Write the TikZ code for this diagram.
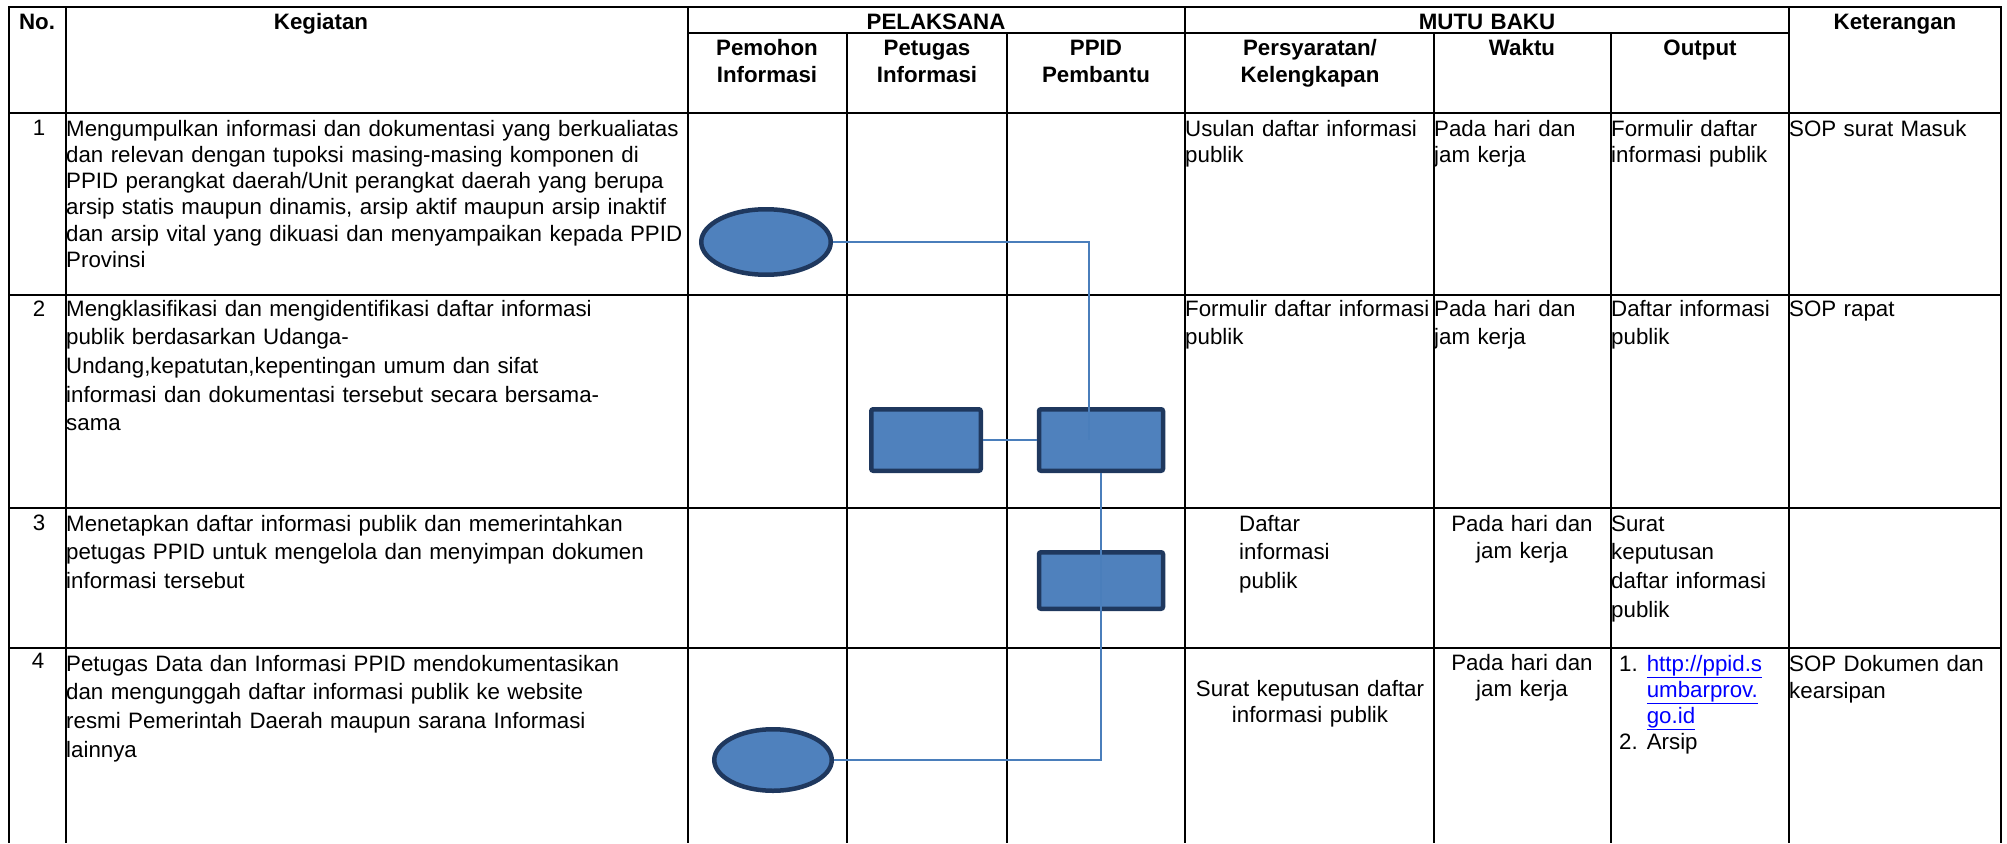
\documentclass[tikz,border=0pt]{standalone}
\usepackage{fontspec}
\setmainfont{Liberation Sans}
\usepackage{tikz}
\usetikzlibrary{shapes.geometric}

\definecolor{shapefill}{RGB}{79,129,189}
\definecolor{shapeedge}{RGB}{31,56,94}
\definecolor{flowline}{RGB}{74,126,187}
\definecolor{linkblue}{RGB}{0,0,255}

\newcommand{\rowfont}{\fontsize{22.3}{26.3}\selectfont}
\newcommand{\widefont}{\fontsize{22.3}{28.7}\selectfont}
\newcommand{\weblink}[1]{\textcolor{linkblue}{\underline{#1}}}

\tikzset{
	hrule/.style={line width=2.6pt, line cap=rect},
	vrule/.style={line width=1.3pt},
	head/.style={anchor=base, inner sep=0pt, align=center, text width=300pt, font=\bfseries\rowfont},
	cell/.style={anchor=base west, inner sep=0pt, align=left, text width=300pt, font=\rowfont},
	widecell/.style={cell, font=\widefont},
	ccell/.style={anchor=base, inner sep=0pt, align=center, text width=300pt, font=\rowfont},
	terminal/.style={ellipse, draw=shapeedge, fill=shapefill, line width=4.5pt, inner sep=0pt},
	process/.style={rectangle, rounded corners=2pt, draw=shapeedge, fill=shapefill, line width=4.5pt, inner sep=0pt},
	flow/.style={draw=flowline, line width=1.5pt}
}

\begin{document}
\begin{tikzpicture}[x=1pt, y=-1pt]
		%%%%% START %%%%%
		\useasboundingbox (0,0) rectangle (2007,843);
		
		% table rules
		\draw[hrule] (9,7) -- (2001,7);
		\draw[hrule] (688,33) -- (1789,33);
		\draw[hrule] (9,113) -- (2001,113);
		\draw[hrule] (9,295) -- (2001,295);
		\draw[hrule] (9,508) -- (2001,508);
		\draw[hrule] (9,648) -- (2001,648);
		
		\draw[vrule, line width=1.8pt] (9,7) -- (9,843);
		\draw[vrule] (66,7) -- (66,843);
		\draw[vrule] (688,7) -- (688,843);
		\draw[vrule] (847,33) -- (847,843);
		\draw[vrule] (1007,33) -- (1007,843);
		\draw[vrule] (1185,7) -- (1185,843);
		\draw[vrule] (1434,33) -- (1434,843);
		\draw[vrule] (1611,33) -- (1611,843);
		\draw[vrule] (1789,7) -- (1789,843);
		\draw[vrule] (2001,7) -- (2001,843);
		
		% header
		\node[head] (hNo) at (37,30) {No.};
		\node[head] (hKeg) at (321,30) {Kegiatan};
		\node[head] (hPel) at (936,30) {PELAKSANA};
		\node[head] (hMutu) at (1487,30) {MUTU BAKU};
		\node[head] (hKet) at (1895,30) {Keterangan};
		\node[head] (hPem) at (767,56) {Pemohon\\Informasi};
		\node[head] (hPet) at (927,56) {Petugas\\Informasi};
		\node[head] (hPpid) at (1096,56) {PPID\\Pembantu};
		\node[head] (hSyarat) at (1310,56) {Persyaratan/\\Kelengkapan};
		\node[head] (hWaktu) at (1522,56) {Waktu};
		\node[head] (hOut) at (1700,56) {Output};
		
		% row 1
		\node[ccell] (n1) at (39,135) {1};
		\node[cell, text width=640pt] (keg1) at (66,136) {Mengumpulkan informasi dan dokumentasi yang berkualiatas\\dan relevan dengan tupoksi masing-masing komponen di\\PPID perangkat daerah/Unit perangkat daerah yang berupa\\arsip statis maupun dinamis, arsip aktif maupun arsip inaktif\\dan arsip vital yang dikuasi dan menyampaikan kepada PPID\\Provinsi};
		\node[cell] (syarat1) at (1185,136) {Usulan daftar informasi\\publik};
		\node[cell] (waktu1) at (1434,136) {Pada hari dan\\jam kerja};
		\node[cell] (out1) at (1611,136) {Formulir daftar\\informasi publik};
		\node[cell] (ket1) at (1789,136) {SOP surat Masuk};
		
		% row 2
		\node[ccell] (n2) at (39,316) {2};
		\node[widecell, text width=640pt] (keg2) at (66,316) {Mengklasifikasi dan mengidentifikasi daftar informasi\\publik berdasarkan Udanga-\\Undang,kepatutan,kepentingan umum dan sifat\\informasi dan dokumentasi tersebut secara bersama-\\sama};
		\node[widecell] (syarat2) at (1185,316) {Formulir daftar informasi\\publik};
		\node[widecell] (waktu2) at (1434,316) {Pada hari dan\\jam kerja};
		\node[widecell] (out2) at (1611,316) {Daftar informasi\\publik};
		\node[widecell] (ket2) at (1789,316) {SOP rapat};
		
		% row 3
		\node[ccell] (n3) at (39,530) {3};
		\node[widecell, text width=640pt] (keg3) at (66,531) {Menetapkan daftar informasi publik dan memerintahkan\\petugas PPID untuk mengelola dan menyimpan dokumen\\informasi tersebut};
		\node[widecell] (syarat3) at (1239,531) {Daftar\\informasi\\publik};
		\node[ccell, font=\fontsize{22.3}{27}\selectfont] (waktu3) at (1522,531) {Pada hari dan\\jam kerja};
		\node[widecell] (out3) at (1611,531) {Surat\\keputusan\\daftar informasi\\publik};
		
		% row 4
		\node[ccell] (n4) at (38,668) {4};
		\node[widecell, text width=640pt] (keg4) at (66,671) {Petugas Data dan Informasi PPID mendokumentasikan\\dan mengunggah daftar informasi publik ke website\\resmi Pemerintah Daerah maupun sarana Informasi\\lainnya};
		\node[ccell] (syarat4) at (1310,696) {Surat keputusan daftar\\informasi publik};
		\node[ccell] (waktu4) at (1522,670) {Pada hari dan\\jam kerja};
		\node[cell] (out4) at (1619,671) {\begin{tabular}[t]{@{}l@{\hspace{9pt}}l@{}}
				1. & \weblink{http://ppid.s}\\
				& \weblink{umbarprov.}\\
				& \weblink{go.id}\\
				2. & Arsip
			\end{tabular}};
		\node[cell, font=\fontsize{22.3}{27}\selectfont] (ket4) at (1789,671) {SOP Dokumen dan\\kearsipan};
		
		% flow shapes
		\node[terminal, minimum width=129.5pt, minimum height=65.5pt] (e1) at (766,242) {};
		\node[process, minimum width=109.5pt, minimum height=61.5pt] (bA) at (926,440) {};
		\node[process, minimum width=124pt, minimum height=61.5pt] (bB) at (1101,440) {};
		\node[process, minimum width=124pt, minimum height=56.5pt] (bC) at (1101,580.5) {};
		\node[terminal, minimum width=117.5pt, minimum height=61.5pt] (e2) at (773,760) {};
		\coordinate (j1) at (1089,440);
		
		\draw[flow] (e1.east) -| (j1);
		\draw[flow] (bA.east) -- (bB.west);
		\draw[flow] (bB.south) -- (bC.south) |- (e2.east);
		
		%%%%% END %%%%%
\end{tikzpicture}
\end{document}
